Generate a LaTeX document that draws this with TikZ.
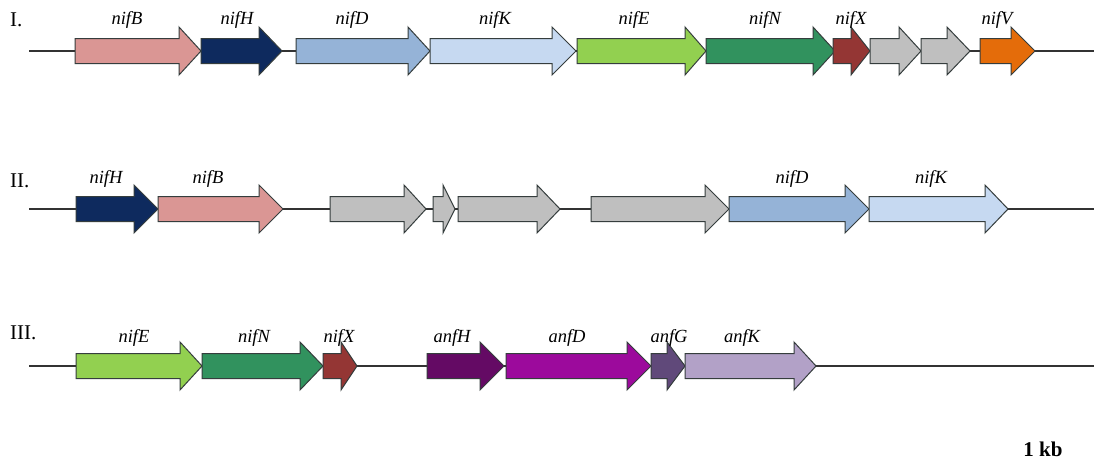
\documentclass[tikz,border=0pt]{standalone}
\usepackage{fontspec}
\setmainfont{Liberation Serif}
\definecolor{cNifB}{HTML}{DA9694}
\definecolor{cNifH}{HTML}{0E2A5E}
\definecolor{cNifD}{HTML}{95B3D7}
\definecolor{cNifK}{HTML}{C6D9F1}
\definecolor{cNifE}{HTML}{92D050}
\definecolor{cNifN}{HTML}{31925E}
\definecolor{cNifX}{HTML}{943634}
\definecolor{cGray}{HTML}{BFBFBF}
\definecolor{cNifV}{HTML}{E46C0A}
\definecolor{cAnfH}{HTML}{640A64}
\definecolor{cAnfD}{HTML}{9C0A9C}
\definecolor{cAnfG}{HTML}{60497A}
\definecolor{cAnfK}{HTML}{B2A1C7}
\definecolor{cEdge}{HTML}{353D3D}
% #1 name, #2 start x, #3 head base x, #4 tip x, #5 centre y, #6 colour
\newcommand{\genearr}[6]{%
  \draw[genebox, fill=#6] (#2,#5-12.5) -- (#3,#5-12.5) -- (#3,#5-24) -- (#4,#5)
    -- (#3,#5+24) -- (#3,#5+12.5) -- (#2,#5+12.5) -- cycle;
  \coordinate (#1-s) at (#2,#5);
  \coordinate (#1-e) at (#4,#5);
}
\begin{document}
\begin{tikzpicture}[x=1pt,y=-1pt,
  genebox/.style={draw=cEdge, line width=1pt, line join=miter},
  backbone/.style={draw=black!80, line width=1.1pt},
  glabel/.style={font=\fontsize{18.5}{18.5}\selectfont\itshape, inner sep=0pt},
  rlabel/.style={font=\fontsize{21}{21}\selectfont, inner sep=0pt, anchor=west},
  scalelabel/.style={font=\fontsize{21}{21}\selectfont\bfseries, inner sep=0pt}]
\useasboundingbox (0,0) rectangle (1097,463);
\fill[white] (0,0) rectangle (1097,463);
% ---------- row I ----------
\coordinate (r1a) at (29,51);
\coordinate (r1b) at (1094,51);
\draw[backbone] (r1a) -- (r1b);
\genearr{i1}{75}{179}{201}{51}{cNifB}
\genearr{i2}{201}{259}{282}{51}{cNifH}
\genearr{i3}{296}{408}{430}{51}{cNifD}
\genearr{i4}{430}{552}{576}{51}{cNifK}
\genearr{i5}{577}{685}{706}{51}{cNifE}
\genearr{i6}{706}{813}{835}{51}{cNifN}
\genearr{i7}{833}{851}{870}{51}{cNifX}
\genearr{i8}{870}{899}{921}{51}{cGray}
\genearr{i9}{921}{947}{970}{51}{cGray}
\genearr{i10}{980}{1011}{1035}{51}{cNifV}
\node[rlabel] (n1) at (10,20) {I.};
\node[glabel] (l1) at (127,20) {nifB};
\node[glabel] (l2) at (237,20) {nifH};
\node[glabel] (l3) at (352,20) {nifD};
\node[glabel] (l4) at (495,20) {nifK};
\node[glabel] (l5) at (634,20) {nifE};
\node[glabel] (l6) at (765,20) {nifN};
\node[glabel] (l7) at (851,20) {nifX};
\node[glabel] (l8) at (997,20) {nifV};
% ---------- row II ----------
\coordinate (r2a) at (29,209);
\coordinate (r2b) at (1094,209);
\draw[backbone] (r2a) -- (r2b);
\genearr{j1}{76}{134}{158}{209}{cNifH}
\genearr{j2}{158}{259}{283}{209}{cNifB}
\genearr{j3}{330}{404}{426}{209}{cGray}
\genearr{j4}{433}{443}{455}{209}{cGray}
\genearr{j5}{458}{537}{560}{209}{cGray}
\genearr{j6}{591}{705}{729}{209}{cGray}
\genearr{j7}{729}{845}{869}{209}{cNifD}
\genearr{j8}{869}{985}{1008}{209}{cNifK}
\node[rlabel] (n2) at (10,181) {II.};
\node[glabel] (m1) at (106,179) {nifH};
\node[glabel] (m2) at (208,179) {nifB};
\node[glabel] (m3) at (792,179) {nifD};
\node[glabel] (m4) at (931,179) {nifK};
% ---------- row III ----------
\coordinate (r3a) at (29,366);
\coordinate (r3b) at (1094,366);
\draw[backbone] (r3a) -- (r3b);
\genearr{k1}{76}{180}{202}{366}{cNifE}
\genearr{k2}{202}{300}{323}{366}{cNifN}
\genearr{k3}{323}{341}{357}{366}{cNifX}
\genearr{k4}{427}{480}{504}{366}{cAnfH}
\genearr{k5}{506}{627}{651}{366}{cAnfD}
\genearr{k6}{651}{667}{685}{366}{cAnfG}
\genearr{k7}{685}{794}{816}{366}{cAnfK}
\node[rlabel] (n3) at (10,333) {III.};
\node[glabel] (p1) at (134,338) {nifE};
\node[glabel] (p2) at (254,338) {nifN};
\node[glabel] (p3) at (339,338) {nifX};
\node[glabel] (p4) at (452,338) {anfH};
\node[glabel] (p5) at (567,338) {anfD};
\node[glabel] (p6) at (669,338) {anfG};
\node[glabel] (p7) at (742,338) {anfK};
% ---------- scale ----------
\node[scalelabel] (kb) at (1043,449) {1 kb};
\end{tikzpicture}
\end{document}
